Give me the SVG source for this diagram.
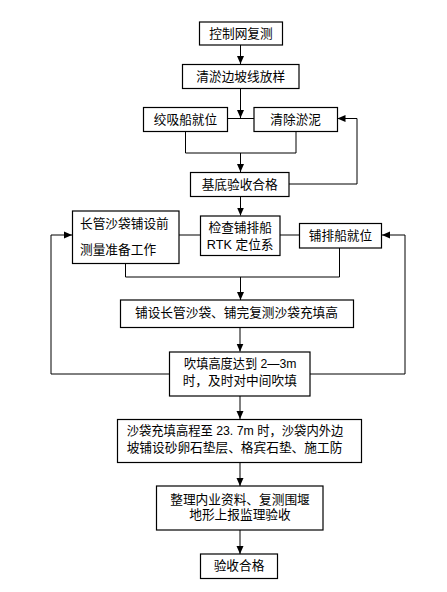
<svg xmlns="http://www.w3.org/2000/svg" width="447" height="592" viewBox="0 0 447 592">
<style>
rect{fill:#fff;stroke:#000;stroke-width:1.2}
text{font-family:"Liberation Sans","Noto Sans CJK SC",sans-serif;font-size:12.7px;fill:#000;dominant-baseline:central}
.c{text-anchor:middle}
#conn path,#conn line,#conn polyline{fill:none;stroke:#000;stroke-width:1}
</style>
<defs>
<marker id="ah" markerUnits="userSpaceOnUse" markerWidth="8" markerHeight="8" refX="8" refY="4" orient="auto">
<path d="M0,0.5 L8,4 L0,7.5 z" fill="#000"/>
</marker>
</defs>
<rect x="0" y="0" width="447" height="592" style="fill:#fff;stroke:none"/>
<g id="conn">
<line x1="240.5" y1="45" x2="240.5" y2="64" marker-end="url(#ah)"/>
<line x1="240.5" y1="88" x2="240.5" y2="118" marker-end="url(#ah)"/>
<line x1="228" y1="118.5" x2="254" y2="118.5"/>
<polyline points="185.5,132 185.5,153 296,153 296,132"/>
<line x1="240.5" y1="153" x2="240.5" y2="172" marker-end="url(#ah)"/>
<polyline points="289,184 357,184 357,118.5 337.5,118.5" marker-end="url(#ah)"/>
<line x1="240.5" y1="196" x2="240.5" y2="215.5" marker-end="url(#ah)"/>
<line x1="179" y1="235" x2="200" y2="235"/>
<line x1="280" y1="235" x2="299" y2="235"/>
<polyline points="125.5,263 125.5,277 339.5,277 339.5,248"/>
<line x1="240.5" y1="277" x2="240.5" y2="300" marker-end="url(#ah)"/>
<line x1="240" y1="327" x2="240" y2="351.5" marker-end="url(#ah)"/>
<polyline points="169,374 51,374 51,235 72,235" marker-end="url(#ah)"/>
<polyline points="310,374 405,374 405,235 382,235" marker-end="url(#ah)"/>
<line x1="240" y1="396" x2="240" y2="419" marker-end="url(#ah)"/>
<line x1="240" y1="462" x2="240" y2="486" marker-end="url(#ah)"/>
<line x1="240" y1="530" x2="240" y2="554" marker-end="url(#ah)"/>
</g>
<g id="n1"><rect x="199.5" y="22" width="83" height="23"/><text class="c" x="241" y="33.5">控制网复测</text></g>
<g id="n2"><rect x="182.5" y="64.5" width="116.5" height="24"/><text class="c" x="240.7" y="76.5">清淤边坡线放样</text></g>
<g id="n3"><rect x="143.5" y="107.5" width="84" height="24"/><text class="c" x="185.5" y="119.5">绞吸船就位</text></g>
<g id="n4"><rect x="254" y="107.5" width="83.5" height="24"/><text class="c" x="295.7" y="119.5">清除淤泥</text></g>
<g id="n5"><rect x="190.5" y="172.5" width="98.5" height="24"/><text class="c" x="239.7" y="184.5">基底验收合格</text></g>
<g id="n6"><rect x="72.5" y="211" width="106.5" height="52.5"/><text x="80" y="223.5">长管沙袋铺设前</text><text x="80" y="250">测量准备工作</text></g>
<g id="n7"><rect x="200.5" y="216" width="79.5" height="39.5"/><text class="c" x="240.2" y="227.5">检查铺排船</text><text class="c" x="240.2" y="244.5">RTK 定位系</text></g>
<g id="n8"><rect x="299.5" y="223.5" width="82" height="24.5"/><text class="c" x="340.5" y="235.5">铺排船就位</text></g>
<g id="n9"><rect x="120.5" y="300" width="233" height="27.5"/><text x="135" y="313">铺设长管沙袋、铺完复测沙袋充填高</text></g>
<g id="n10"><rect x="169.5" y="352" width="140.5" height="44"/><text x="184" y="363.5" textLength="112.5" lengthAdjust="spacingAndGlyphs">吹填高度达到 2—3m</text><text x="182.7" y="381">时，及时对中间吹填</text></g>
<g id="n11"><rect x="117.5" y="419.5" width="244" height="43"/><text x="126.7" y="431" textLength="216.6" lengthAdjust="spacingAndGlyphs">沙袋充填高程至 23. 7m 时，沙袋内外边</text><text x="126.7" y="448">坡铺设砂卵石垫层、格宾石垫、施工防</text></g>
<g id="n12"><rect x="156.5" y="486" width="166.5" height="44"/><text class="c" x="240" y="499.5">整理内业资料、复测围堰</text><text class="c" x="240" y="514.5">地形上报监理验收</text></g>
<g id="n13"><rect x="200.5" y="554" width="77" height="24.5"/><text class="c" x="239" y="566">验收合格</text></g>
</svg>
